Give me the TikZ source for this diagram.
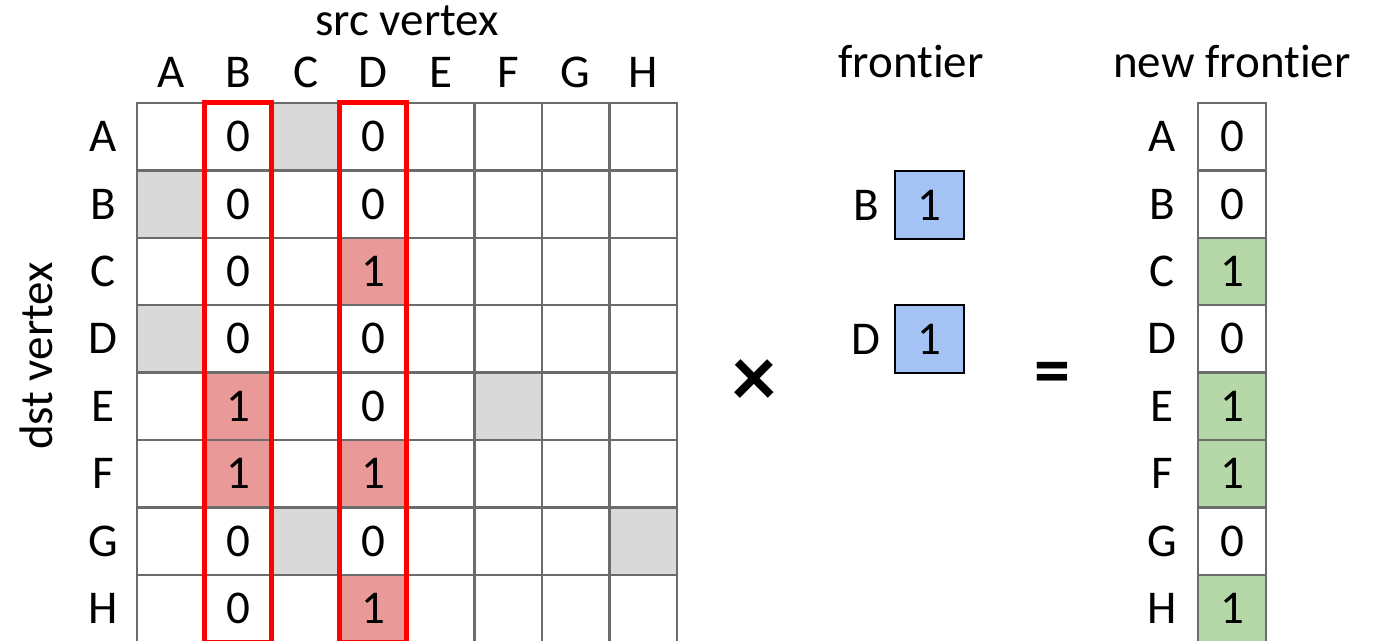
\documentclass[tikz,border=0pt]{standalone}
\usepackage{fontspec}
\setmainfont[Ligatures={NoCommon,NoContextual,NoRare}]{Carlito}
\usetikzlibrary{positioning}

\definecolor{gridgray}{HTML}{6B6B6B}
\definecolor{emptygray}{HTML}{D9D9D9}
\definecolor{edgered}{HTML}{EA9999}
\definecolor{frontblue}{HTML}{A4C2F4}
\definecolor{newgreen}{HTML}{B6D7A8}

\tikzset{
    txt/.style={font=\fontsize{47}{56}\selectfont, inner sep=0pt},
    cell/.style={draw=gridgray, line width=2.5pt, inner sep=0pt,
        minimum width=67.5pt, minimum height=67.4pt},
    vecbox/.style={draw=black, line width=2.5pt, inner sep=0pt, fill=frontblue,
        minimum width=69pt, minimum height=68pt, font=\fontsize{47}{56}\selectfont},
    colmark/.style={draw=red, line width=5pt}
}

\begin{document}
\begin{tikzpicture}[x=1pt, y=-1pt]

\useasboundingbox (0,0) rectangle (1380,640);

\def\rh{67.4}

% empty rows/columns and the edges that hit the frontier
\tikzset{
    c1-3/.style={fill=emptygray}, c2-1/.style={fill=emptygray},
    c4-1/.style={fill=emptygray}, c5-6/.style={fill=emptygray},
    c7-3/.style={fill=emptygray}, c7-8/.style={fill=emptygray},
    c5-2/.style={fill=edgered}, c6-2/.style={fill=edgered},
    c3-4/.style={fill=edgered}, c6-4/.style={fill=edgered},
    c8-4/.style={fill=edgered}
}

% (a) Adjacency matrix
\begin{scope}
    \foreach \r in {1,...,8}
        \foreach \c in {1,...,8}
            \node[cell, c\r-\c/.try] (m-\r-\c) at ({137+67.5*(\c-0.5)}, {103+\rh*(\r-0.5)}) {};

    \foreach \l [count=\i] in {A,B,C,D,E,F,G,H}
        {\node[txt] (src-\l) at ({137+67.5*(\i-0.5)}, 72.5) {\l};
         \node[txt] (dst-\l) at (103, {103+\rh*(\i-0.5)}) {\l};}

    % columns B and D
    \foreach \v [count=\r] in {0,0,0,0,1,1,0,0}
        \node[txt] (vb-\r) at (m-\r-2) {\v};
    \foreach \v [count=\r] in {0,0,1,0,0,1,0,1}
        \node[txt] (vd-\r) at (m-\r-4) {\v};

    \draw[colmark] ([shift={(1.5,1)}]m-1-2.north west) rectangle ([shift={(-1.5,-1)}]m-8-2.south east);
    \draw[colmark] ([shift={(1.5,1)}]m-1-4.north west) rectangle ([shift={(-1.5,-1)}]m-8-4.south east);

    \node[txt, anchor=base] (srclbl) at (407, 35) {src vertex};
    \node[txt, anchor=base, rotate=90] (dstlbl) at (52, 356) {dst vertex};
\end{scope}

\node[txt, font=\fontsize{88}{90}\selectfont\bfseries] (times) at (754, 383) {×};

% (b) Frontier
\begin{scope}
    \node[txt, anchor=base] (frontlbl) at (911, 77) {frontier};
    \node[vecbox] (f-B) at (929.5, 205) {1};
    \node[vecbox] (f-D) at (929.5, 339) {1};
    \node[txt] (fl-B) at (866, 205) {B};
    \node[txt] (fl-D) at (866, 339) {D};
\end{scope}

\node[txt, font=\fontsize{72}{80}\selectfont\bfseries] (equals) at (1052, 378) {=};

% (c) New frontier
\begin{scope}
    \node[txt, anchor=base] (newlbl) at (1232, 77) {new frontier};
    \foreach \l/\v/\f [count=\i] in {A/0/white, B/0/white, C/1/newgreen, D/0/white,
                                     E/1/newgreen, F/1/newgreen, G/0/white, H/1/newgreen}
        {\node[cell, fill=\f, minimum width=68pt, font=\fontsize{47}{56}\selectfont]
             (n-\l) at (1232, {103+\rh*(\i-0.5)}) {\v};
         \node[txt] (nl-\l) at (1162, {103+\rh*(\i-0.5)}) {\l};}
\end{scope}

\end{tikzpicture}
\end{document}
